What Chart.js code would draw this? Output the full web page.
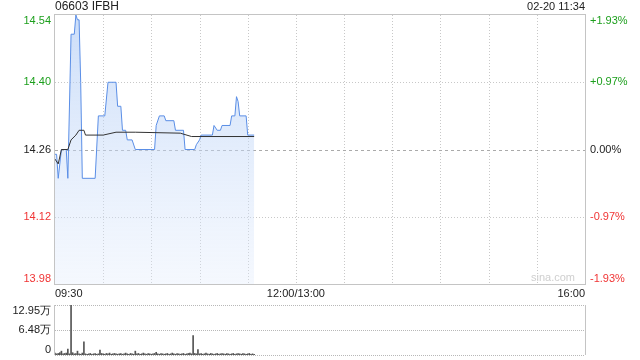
<!DOCTYPE html>
<html>
<head>
<meta charset="utf-8">
<script src="https://cdn.jsdelivr.net/npm/chart.js@4.4.1/dist/chart.umd.min.js"></script>
<style>
body{margin:0;background:#fff;width:640px;height:360px;overflow:hidden}
#wrap{position:relative;width:640px;height:360px}
#price{position:absolute;left:0;top:0}
#vol{position:absolute;left:0;top:300px}
</style>
</head>
<body>
<div id="wrap">
<canvas id="price" width="640" height="300"></canvas>
<canvas id="vol" width="640" height="60"></canvas>
</div>
<script>
// minutes after 09:30 (trading minutes, 12:00 and 13:00 are the same point)
var priceMin = [0,1,2,4,7,8,10,12,13,14,15,16,17,25,27,31,33,38,39,41,42,44,45,48,50,62,63,65,68,69,74,75,80,81,87,88,90,91,98,99,101,103,104,109,110,112,113,114,115,119,120,124]
var price    = [14.25,14.25,14.20,14.26,14.26,14.20,14.50,14.50,14.54,14.53,14.53,14.40,14.20,14.20,14.33,14.33,14.40,14.40,14.35,14.35,14.30,14.30,14.28,14.28,14.26,14.26,14.31,14.33,14.33,14.32,14.32,14.30,14.30,14.26,14.26,14.27,14.28,14.29,14.29,14.31,14.30,14.30,14.31,14.31,14.33,14.33,14.37,14.36,14.33,14.33,14.29,14.29]
var avgMin = [0,2,4,8,10,13,15,18,19,30,38,50,78,85,124]
var avgPrice = [14.24,14.23,14.26,14.26,14.28,14.29,14.30,14.30,14.29,14.29,14.296,14.296,14.294,14.287,14.287]

// volume per minute, in 万
var volume = [0.5,0.3,0.4,0.6,1.0,0.3,0.4,0.5,1.55,0.3,12.95,0.6,0.3,0.4,1.0,0.3,0.2,0.5,3.4,0.3,
  0.2,0.3,0.4,0.2,0.3,0.4,0.2,0.3,1.3,0.4,0.3,0.2,0.4,0.3,0.5,0.2,0.3,0.4,0.3,0.2,
  0.3,0.4,0.2,0.3,0.5,0.3,0.2,0.4,0.3,0.2,1.0,0.3,0.4,0.2,0.3,0.5,0.3,0.2,0.4,0.3,
  0.2,0.3,0.4,0.7,0.3,0.2,0.4,0.3,0.2,0.3,0.4,0.2,0.3,0.5,0.3,0.2,0.4,0.3,0.2,0.3,
  0.4,0.2,0.3,0.4,0.5,0.3,5.0,0.4,0.3,1.4,0.3,0.4,0.2,0.3,0.5,0.3,0.2,0.4,0.3,0.2,
  0.3,0.4,0.2,0.3,0.4,0.3,0.2,0.4,0.3,0.2,0.3,0.4,0.2,0.3,0.4,0.3,0.2,0.4,0.3,0.2,
  0.3,0.4,0.2,0.3,0.2]

var yTicks = [13.98,14.12,14.26,14.40,14.54]
var pctTicks = ['-1.93%','-0.97%','0.00%','+0.97%','+1.93%']
var timeTicks = [0,150,330]
var timeLabels = ['09:30','12:00/13:00','16:00']
var volTicks = [0,64800,129500]
var volLabels = ['0','6.48万','12.95万']

var FONT = '"Liberation Sans", Arial, sans-serif'
var GREEN = '#1c9f1c', RED = '#f03434'

function tickColor(i){ return i < 2 ? RED : (i == 2 ? '#222' : GREEN) }

function pts(xs, ys){ return xs.map(function(x,i){ return {x:x, y:ys[i]} }) }

function line(ctx, x1, y1, x2, y2, color, dash){
  ctx.beginPath()
  ctx.strokeStyle = color
  ctx.setLineDash(dash || [])
  ctx.moveTo(x1,y1); ctx.lineTo(x2,y2)
  ctx.stroke()
}

var priceDeco = {
  id: 'priceDeco',
  beforeDatasetsDraw: function(chart){
    var ctx = chart.ctx, sx = chart.scales.x, sy = chart.scales.y, a = chart.chartArea
    ctx.save()
    ctx.lineWidth = 1
    for (var m = 30; m < 330; m += 30) {
      var px = Math.round(sx.getPixelForValue(m)) + 0.5
      line(ctx, px, a.top, px, a.bottom, '#c8c8c8', [1,2])
    }
    yTicks.forEach(function(v,i){
      if (i == 0 || i == yTicks.length-1) return
      var py = Math.round(sy.getPixelForValue(v)) + 0.5
      if (i == 2) line(ctx, a.left, py, a.right, py, '#aaaaaa', [3,3])
      else line(ctx, a.left, py, a.right, py, '#c8c8c8', [1,2])
    })
    ctx.restore()
  },
  afterDraw: function(chart){
    var ctx = chart.ctx, sx = chart.scales.x, sy = chart.scales.y, a = chart.chartArea
    ctx.save()
    ctx.lineWidth = 1
    ctx.strokeRect(0,0,0,0)
    ctx.strokeStyle = '#c4c4c4'
    ctx.setLineDash([])
    ctx.strokeRect(Math.round(a.left)-0.5, Math.round(a.top)-0.5, Math.round(a.right-a.left)+1, Math.round(a.bottom-a.top)+1)

    ctx.font = '11px ' + FONT
    yTicks.forEach(function(v,i){
      var py = sy.getPixelForValue(v)
      ctx.textBaseline = i == 0 ? 'bottom' : (i == yTicks.length-1 ? 'top' : 'middle')
      ctx.fillStyle = tickColor(i)
      ctx.textAlign = 'right'
      ctx.fillText(v.toFixed(2), a.left - 4, py)
      ctx.textAlign = 'left'
      ctx.fillText(pctTicks[i], a.right + 5, py)
    })
    ctx.fillStyle = '#222'
    ctx.textBaseline = 'middle'
    timeTicks.forEach(function(t,i){
      ctx.textAlign = i == 0 ? 'left' : (i == timeTicks.length-1 ? 'right' : 'center')
      ctx.fillText(timeLabels[i], sx.getPixelForValue(t), a.bottom + 10)
    })
    ctx.font = '12px ' + FONT
    ctx.textAlign = 'left'
    ctx.fillText('06603 IFBH', a.left, 7)
    ctx.font = '11px ' + FONT
    ctx.textAlign = 'right'
    ctx.fillText('02-20 11:34', a.right, 7)
    ctx.fillStyle = '#cfcfcf'
    ctx.fillText('sina.com', a.right - 10, a.bottom - 6)
    ctx.restore()
  }
}

var priceChart = new Chart(document.getElementById('price'), {
  type: 'line',
  data: {
    datasets: [
      {
        data: pts(avgMin, avgPrice),
        borderColor: '#333333',
        borderWidth: 1,
        pointRadius: 0,
        fill: false,
        tension: 0
      },
      {
        data: pts(priceMin, price),
        borderColor: '#5a8ee6',
        borderWidth: 1,
        pointRadius: 0,
        tension: 0,
        fill: 'start',
        backgroundColor: function(c){
          var a = c.chart.chartArea
          if (!a) return 'rgba(200,220,248,0.5)'
          var g = c.chart.ctx.createLinearGradient(0, a.top, 0, a.bottom)
          g.addColorStop(0, 'rgba(170,200,245,0.6)')
          g.addColorStop(1, 'rgba(225,235,252,0.35)')
          return g
        }
      }
    ]
  },
  options: {
    responsive: false,
    animation: false,
    layout: { padding: { left: 55, right: 55, top: 15, bottom: 16 } },
    plugins: { legend: { display: false }, tooltip: { enabled: false } },
    scales: {
      x: { type: 'linear', min: 0, max: 330, display: false, afterFit: function(s){ s.height = 0 } },
      y: { min: 13.98, max: 14.54, display: false, afterFit: function(s){ s.width = 0 } }
    }
  },
  plugins: [priceDeco]
})

var volDeco = {
  id: 'volDeco',
  beforeDatasetsDraw: function(chart){
    var ctx = chart.ctx, sy = chart.scales.y, a = chart.chartArea
    ctx.save()
    ctx.lineWidth = 1
    volTicks.forEach(function(v){
      var py = Math.round(sy.getPixelForValue(v)) + 0.5
      line(ctx, a.left, py, a.right, py, '#b8b8b8', [1,1])
    })
    line(ctx, Math.round(a.left)-0.5, a.top, Math.round(a.left)-0.5, a.bottom, '#c4c4c4')
    line(ctx, Math.round(a.right)+0.5, a.top, Math.round(a.right)+0.5, a.bottom, '#c4c4c4')
    ctx.font = '11px ' + FONT
    ctx.fillStyle = '#222'
    ctx.textAlign = 'right'
    volTicks.forEach(function(v,i){
      ctx.textBaseline = i == 0 ? 'bottom' : (i == volTicks.length-1 ? 'top' : 'middle')
      ctx.fillText(volLabels[i], a.left - 4, sy.getPixelForValue(v))
    })
    ctx.restore()
  }
}

var volChart = new Chart(document.getElementById('vol'), {
  type: 'bar',
  data: {
    datasets: [{
      data: volume.map(function(v,i){ return {x:i, y:v*10000} }),
      backgroundColor: '#555555',
      barThickness: 1
    }]
  },
  options: {
    responsive: false,
    animation: false,
    layout: { padding: { left: 55, right: 55, top: 5, bottom: 5 } },
    plugins: { legend: { display: false }, tooltip: { enabled: false } },
    scales: {
      x: { type: 'linear', min: 0, max: 330, offset: false, display: false, afterFit: function(s){ s.height = 0 } },
      y: { min: 0, max: 129500, display: false, afterFit: function(s){ s.width = 0 } }
    }
  },
  plugins: [volDeco]
})
</script>
</body>
</html>
